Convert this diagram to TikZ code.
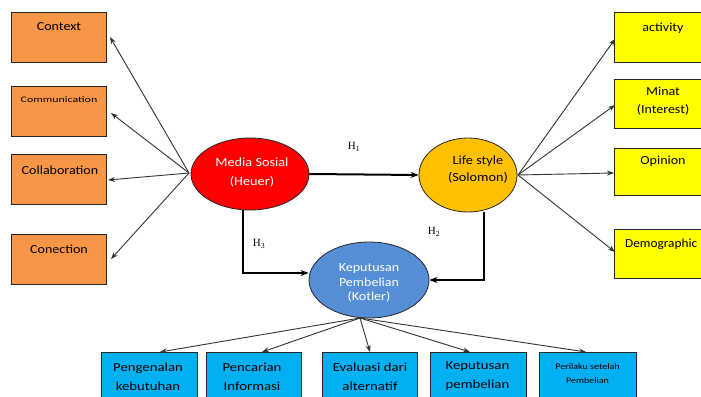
\documentclass[tikz,border=0pt]{standalone}
\usepackage{fontspec}
\setmainfont{Carlito}
\newfontfamily\hfont{Liberation Serif}
\usetikzlibrary{arrows.meta,shapes.geometric}
\newcommand\hsx[1]{\scalebox{1.14}[1]{#1}}
\newcommand\hsb[1]{\scalebox{1.2}[1]{#1}}
\definecolor{orbox}{HTML}{F79646}
\definecolor{yebox}{HTML}{FFFF00}
\definecolor{blbox}{HTML}{00B0F0}
\definecolor{redell}{HTML}{FF0000}
\definecolor{goldell}{HTML}{FFC000}
\definecolor{blueell}{HTML}{558ED5}
\tikzset{
  box/.style={draw=black!85, line width=0.8pt, minimum width=95pt, minimum height=50pt, inner sep=0pt},
  ell/.style={ellipse, draw=black!85, line width=0.8pt, inner sep=0pt},
  thin arrow/.style={draw=black!80, line width=0.9pt, -{Stealth[length=7pt,width=5pt]}},
  thick arrow/.style={draw=black, line width=2pt, -{Stealth[length=8pt,width=6pt]}},
  btxt/.style={font=\fontsize{12.3}{19}\selectfont, align=center, inner sep=0pt},
  stxt/.style={font=\fontsize{8.5}{14}\selectfont, align=center, inner sep=0pt},
  etxt/.style={font=\fontsize{12.5}{19}\selectfont, align=center, inner sep=0pt},
  hlab/.style={font=\hfont\fontsize{11}{12}\selectfont}
}
\begin{document}
\begin{tikzpicture}[x=1pt,y=-1pt]
\useasboundingbox (0,0) rectangle (701,396);
\clip (0,0) rectangle (701,396);
\fill[white] (0,0) rectangle (701,396);
% left boxes
\node[box, fill=orbox] (ctx) at (58.5,37) {};
\node[btxt] at (59,27) {\hsx{Context}};
\node[box, fill=orbox] (com) at (58.5,111) {};
\node[stxt] at (59,100) {\scalebox{1.4}[1]{Communication}};
\node[box, fill=orbox] (col) at (58.5,179) {};
\node[btxt] at (60,170) {\hsx{Collaboration}};
\node[box, fill=orbox] (con) at (58.5,259) {};
\node[btxt] at (59,249) {\hsx{Conection}};
% right boxes
\node[box, fill=yebox, minimum height=50pt] (act) at (661.5,37) {};
\node[btxt] at (663,28) {\hsx{activity}};
\node[box, fill=yebox, minimum height=49pt] (min) at (661.5,103.5) {};
\node[btxt, font=\fontsize{12.3}{18}\selectfont] at (663,101) {\hsx{Minat}\\\hsx{(Interest)}};
\node[box, fill=yebox, minimum height=47pt] (opi) at (661.5,171.5) {};
\node[btxt] at (663,161) {\hsx{Opinion}};
\node[box, fill=yebox, minimum height=49pt] (dem) at (661.5,253.5) {};
\node[btxt, anchor=west] at (625,244) {\scalebox{1.08}[1]{Demographic}};
% ellipses
\node[ell, fill=redell, minimum width=118pt, minimum height=72pt] (ms) at (250,174) {};
\node[etxt, text=white] at (252,172.5) {\hsx{Media Sosial}\\\hsx{(Heuer)}};
\node[ell, fill=goldell, minimum width=98pt, minimum height=74pt] (ls) at (468,175) {};
\node[etxt, font=\fontsize{12.5}{17}\selectfont] at (478,170) {\hsx{Life style}\\\hsx{(Solomon)}};
\node[ell, fill=blueell, minimum width=120pt, minimum height=76pt] (kp) at (369,280) {};
\node[etxt, text=white, font=\fontsize{12.3}{14.5}\selectfont] at (369,283) {\hsx{Keputusan}\\\hsx{Pembelian}\\\hsx{(Kotler)}};
% bottom boxes
\node[box, fill=blbox, minimum width=96pt, anchor=north] (b1) at (149,352) {};
\node[btxt] at (148,376.5) {\hsb{Pengenalan}\\\hsb{kebutuhan}};
\node[box, fill=blbox, minimum width=95pt, anchor=north] (b2) at (253.5,352) {};
\node[btxt] at (252,376.5) {\hsb{Pencarian}\\\hsb{Informasi}};
\node[box, fill=blbox, minimum width=95pt, anchor=north] (b3) at (369.5,352) {};
\node[btxt] at (370,376.5) {\hsb{Evaluasi dari}\\\hsb{alternatif}};
\node[box, fill=blbox, minimum width=96pt, anchor=north] (b4) at (478,352) {};
\node[btxt] at (477.5,376.5) {\hsb{Keputusan}\\\hsb{pembelian}};
\node[box, fill=blbox, minimum width=97pt, anchor=north] (b5) at (587.5,352) {};
\node[stxt] at (587.5,374) {\scalebox{1.18}[1]{Perilaku setelah}\\\scalebox{1.18}[1]{Pembelian}};
% coordinates for arrow sources/targets
\coordinate (msl) at (189,173);
\coordinate (lsr) at (518,175);
\coordinate (kpb) at (360,318);
\coordinate (t1) at (110,37);
\coordinate (t2) at (111,113);
\coordinate (t3) at (108,180);
\coordinate (t4) at (111,259);
\coordinate (r1) at (615,39);
\coordinate (r2) at (615,105);
\coordinate (r3) at (614,173);
\coordinate (r4) at (615,252);
% left arrows
\draw[thin arrow] (msl) -- (t1);
\draw[thin arrow] (msl) -- (t2);
\draw[thin arrow] (msl) -- (t3);
\draw[thin arrow] (msl) -- (t4);
% right arrows
\draw[thin arrow] (lsr) -- (r1);
\draw[thin arrow] (lsr) -- (r2);
\draw[thin arrow] (lsr) -- (r3);
\draw[thin arrow] (lsr) -- (r4);
% bottom arrows
\draw[thin arrow] (kpb) -- (b1.north -| 160,0);
\draw[thin arrow] (kpb) -- (b2.north -| 262,0);
\draw[thin arrow] (kpb) -- (b3.north -| 370,0);
\draw[thin arrow] (kpb) -- (b4.north -| 470,0);
\draw[thin arrow] (kpb) -- (b5.north -| 586,0);
% H arrows
\draw[thick arrow] (ms.east) -- (ls.west);
\draw[thick arrow] (ms.south -| 243,0) -- (243,273) -- (kp.west |- 0,273);
\draw[thick arrow] (ls.south -| 484,0) -- (484,280) -- (kp.east);
\node[hlab] at (354,147) {H\textsubscript{1}};
\node[hlab] at (434,232) {H\textsubscript{2}};
\node[hlab] at (259,244) {H\textsubscript{3}};
\end{tikzpicture}
\end{document}
